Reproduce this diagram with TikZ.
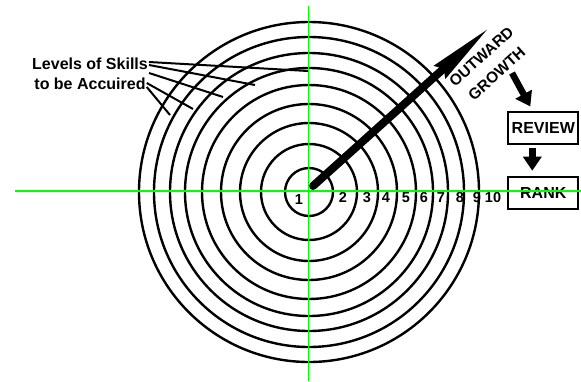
\documentclass[tikz,border=0pt]{standalone}
\usepackage{fontspec}
\setmainfont{Liberation Sans}
\usetikzlibrary{arrows.meta,positioning}

\begin{document}
\begin{tikzpicture}[x=1pt,y=-1pt,
  ring/.style={line width=2.4pt},
  osa/.style={green,line width=1.5pt},
  num/.style={font=\bfseries\fontsize{14.5}{14.5}\selectfont,inner sep=0pt},
  lbl/.style={font=\bfseries\fontsize{16}{23}\selectfont,inner sep=1pt},
  box/.style={draw,line width=2pt,minimum width=70pt,minimum height=32pt,inner sep=0pt,font=\bfseries\fontsize{16}{16}\selectfont},
  fat/.style={line width=6.5pt,-{Triangle[length=14pt,width=18pt]}}]
  \useasboundingbox (0,0) rectangle (581,381);
  \coordinate (c) at (309,192);
  % soustredne kruhy (urovne)
  \foreach \r in {24,48,69,88,107,124,139,155,170}
    \draw[ring] (c) circle[radius=\r pt];
  % cisla urovni
  \node[num] (n1) at (299,200) {1};
  \foreach \n/\x in {2/343,3/367,4/386,5/406,6/424,7/441,8/460,9/477,10/493}
    \node[num] (n\n) at (\x,197.5) {\n};
  % popisek vlevo
  \node[lbl] (lvl1) at (90,64) {Levels of Skills};
  \node[lbl] (lvl2) at (90,84) {to be Accuired};
  \coordinate (a1) at (308,71);
  \coordinate (a2) at (255,85);
  \coordinate (a3) at (223,97);
  \coordinate (a4) at (193,109);
  \coordinate (a5) at (170,115);
  \foreach \s/\d/\e in {lvl1/2/a1,lvl1/-1/a2,lvl1/-9/a3,lvl2/1/a4,lvl2/-3/a5}
    \draw[line width=2pt] ([yshift=\d pt]\s.east) -- (\e);
  % rust ven
  \coordinate (hrot) at (490,27);
  \draw[line width=8pt,line cap=round,-{Stealth[length=66pt,width=16pt,inset=4pt]}] ([xshift=4pt,yshift=6pt]c) -- (hrot);
  \node[lbl,rotate=42,align=center,font=\bfseries\fontsize{15.5}{23}\selectfont] (rust) at (489,65) {OUTWARD\\GROWTH};
  \node[box] (review) at (543.3,127.5) {REVIEW};
  \node[box,minimum height=32.6pt] (rank) at (543.3,193) {RANK};
  \coordinate (g) at (512,73);
  \draw[fat] (g) -- ([xshift=-13pt,yshift=4pt]review.north);
  \draw[fat] ([xshift=-11pt,yshift=-3pt]review.south) -- ([xshift=-11pt,yshift=5pt]rank.north);
  % osy
  \draw[osa] (15,191) -- (581,191);
  \draw[osa] (308.5,6) -- (308.5,381);
\end{tikzpicture}
\end{document}
